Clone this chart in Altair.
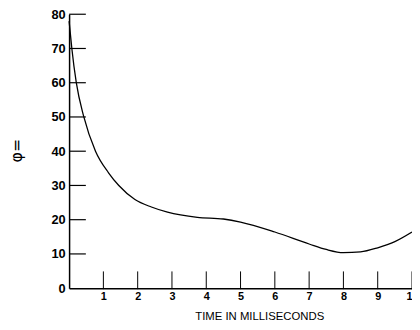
import altair as alt
import pandas as pd

time_ms = [0, 0.03, 0.08, 0.21, 0.43, 0.77, 1.15, 1.45, 1.92, 2.4, 2.87, 3.74, 4.5, 5.0, 6.0, 7.0, 7.5, 8.0, 8.5, 9.0, 9.5, 10.0]
phi = [78, 75, 70, 60, 50, 40, 33.7, 30, 25.9, 23.7, 22.2, 20.7, 20.2, 19.3, 16.4, 12.9, 11.3, 10.4, 10.6, 11.8, 13.6, 16.4]
x_ticks = [1, 2, 3, 4, 5, 6, 7, 8, 9, 10]
y_ticks = [0, 10, 20, 30, 40, 50, 60, 70, 80]

df = pd.DataFrame({"t": time_ms, "phi": phi})
xt = pd.DataFrame({"t": x_ticks})
yt = pd.DataFrame({"phi": [v for v in y_ticks if v > 0]})

W, H = 348, 278
FONT = "Liberation Sans"

xscale = alt.Scale(domain=[0, 10], nice=False, zero=True)
yscale = alt.Scale(domain=[0, 80], nice=False)

xaxis = alt.Axis(values=x_ticks, ticks=False, grid=False, domainColor="black", domainWidth=1.5,
                 labelFont=FONT, labelFontSize=11, labelColor="black", labelFontWeight="bold",
                 labelPadding=3, labelOverlap=False, labelFlush=False,
                 title="TIME  IN  MILLISECONDS", titleFont=FONT,
                 titleFontSize=11.5, titleFontWeight="normal", titleColor="black",
                 titleX=193, titleY=29, titleBaseline="middle")
yaxis = alt.Axis(values=y_ticks, ticks=False, grid=False, domainColor="black", domainWidth=1.5,
                 labelFont=FONT, labelFontSize=13, labelColor="black", labelFontWeight="bold",
                 labelPadding=4, labelOverlap=False, labelFlush=False,
                 title="φ=", titleFont="DejaVu Sans", titleFontSize=16,
                 titleFontWeight="normal", titleColor="black",
                 titleX=-45, titleY=138, titleAngle=270)

line = alt.Chart(df).mark_line(color="black", strokeWidth=1.3, interpolate="monotone").encode(
    x=alt.X("t:Q", scale=xscale, axis=xaxis),
    y=alt.Y("phi:Q", scale=yscale, axis=yaxis),
)

xticks = alt.Chart(xt).mark_rule(color="black", strokeWidth=1).encode(
    x=alt.X("t:Q", scale=xscale, axis=xaxis),
    y=alt.value(H - 17),
    y2=alt.value(H + 1),
)

yticks = alt.Chart(yt).mark_rule(color="black", strokeWidth=1.2).encode(
    y=alt.Y("phi:Q", scale=yscale, axis=yaxis),
    x=alt.value(0),
    x2=alt.value(17),
)

chart = alt.layer(line, xticks, yticks).properties(
    width=W, height=H,
    autosize=alt.AutoSizeParams(type="none"),
    padding={"left": 62, "top": 4, "right": 0, "bottom": 32},
    background="white",
).configure_view(stroke=None)

chart.save("out.html", embed_options={"renderer": "svg", "actions": False})
